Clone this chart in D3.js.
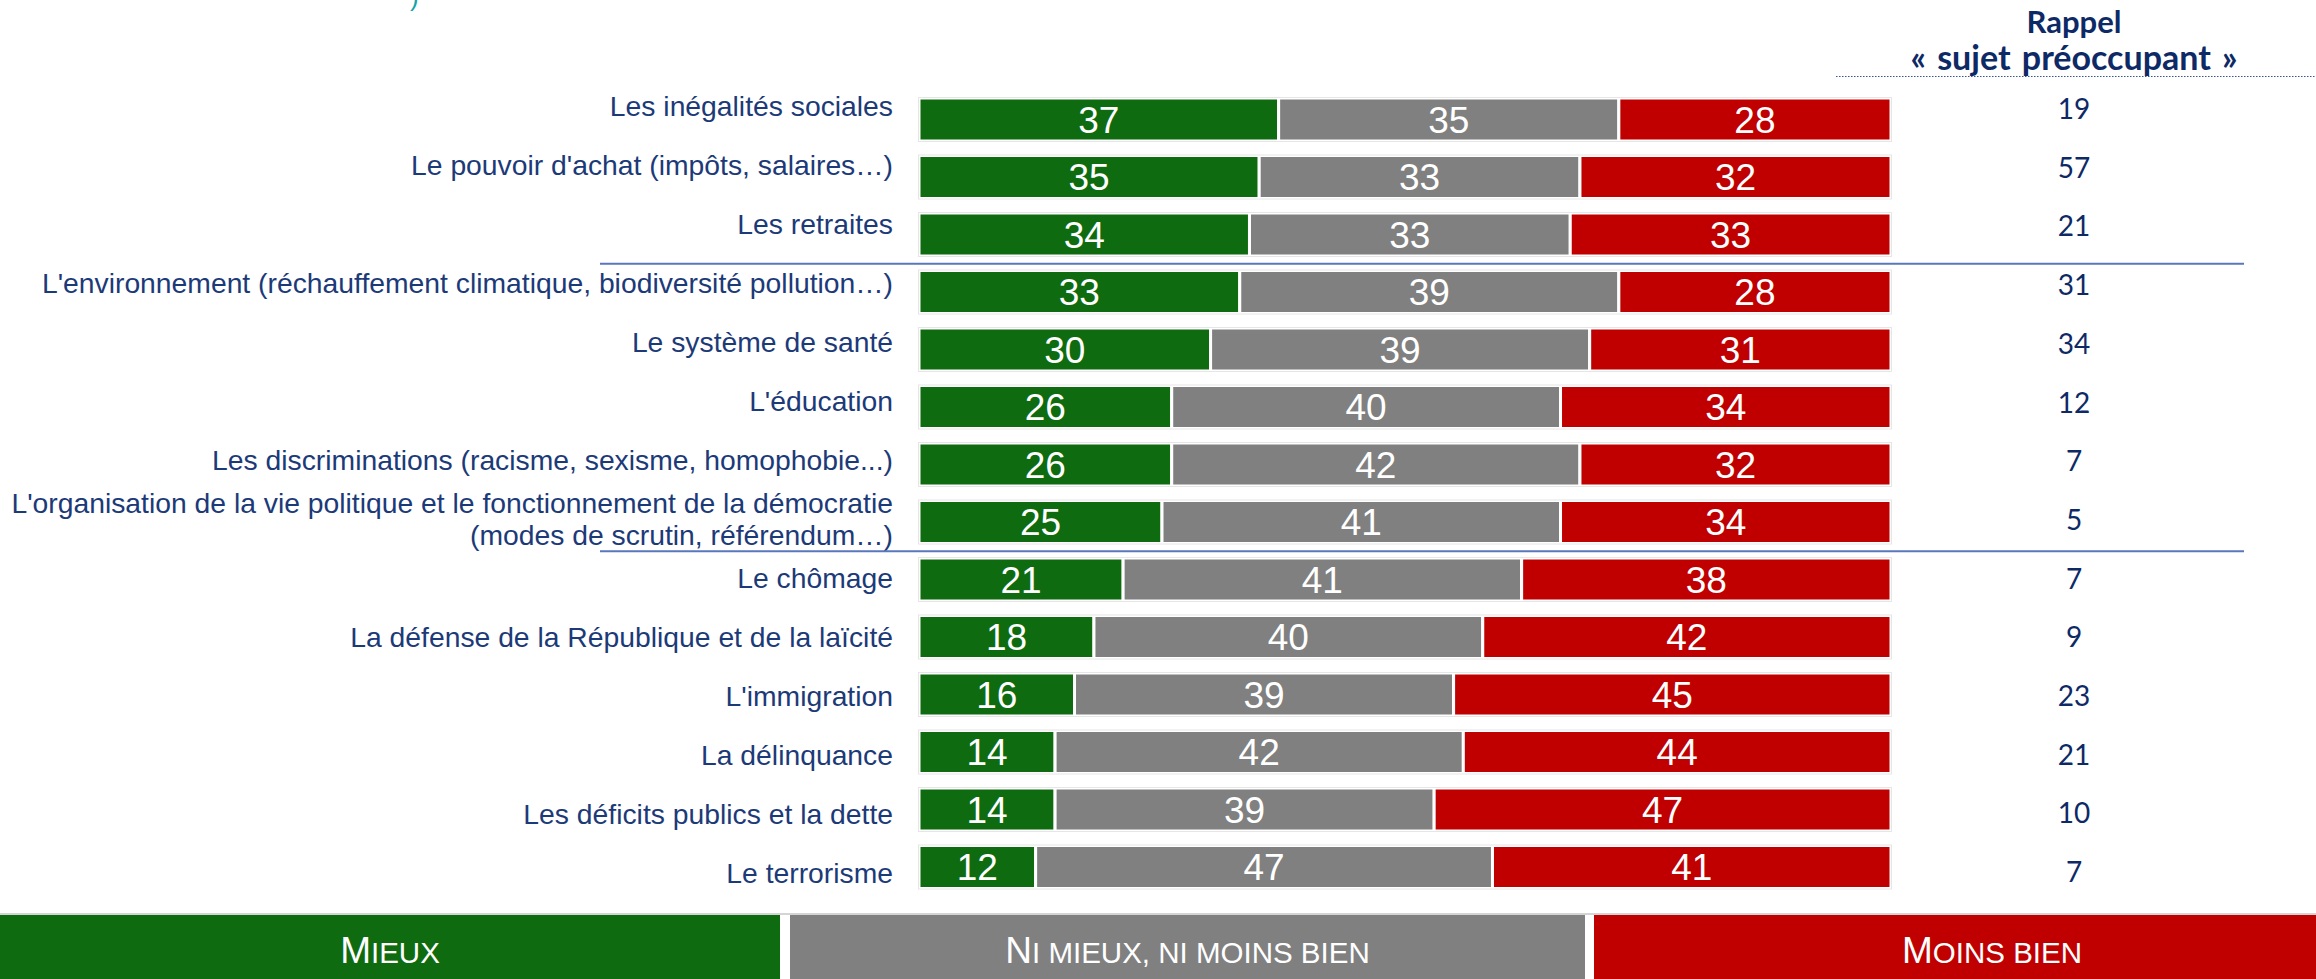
<!DOCTYPE html>
<html lang="fr">
<head>
<meta charset="utf-8">
<title>Évolution perçue des sujets de société</title>
<script src="https://cdn.jsdelivr.net/npm/d3@7"></script>
<style>
  html, body { margin: 0; padding: 0; background: #ffffff; }
  svg { display: block; }
</style>
</head>
<body>
<svg id="chart" width="2316" height="979"></svg>
<script>
// Sujets, de haut en bas (le 8e tient sur deux lignes)
const categories = [
  ["Les inégalités sociales"],
  ["Le pouvoir d'achat (impôts, salaires…)"],
  ["Les retraites"],
  ["L'environnement (réchauffement climatique, biodiversité pollution…)"],
  ["Le système de santé"],
  ["L'éducation"],
  ["Les discriminations (racisme, sexisme, homophobie...)"],
  ["L'organisation de la vie politique et le fonctionnement de la démocratie", "(modes de scrutin, référendum…)"],
  ["Le chômage"],
  ["La défense de la République et de la laïcité"],
  ["L'immigration"],
  ["La délinquance"],
  ["Les déficits publics et la dette"],
  ["Le terrorisme"]
];

// Répartition des réponses (%)
const mieux      = [37, 35, 34, 33, 30, 26, 26, 25, 21, 18, 16, 14, 14, 12];
const niMieux    = [35, 33, 33, 39, 39, 40, 42, 41, 41, 40, 39, 42, 39, 47];
const moinsBien  = [28, 32, 33, 28, 31, 34, 32, 34, 38, 42, 45, 44, 47, 41];

// Rappel « sujet préoccupant » (%)
const rappel = [19, 57, 21, 31, 34, 12, 7, 5, 7, 9, 23, 21, 10, 7];

// Séparateurs tracés après ces lignes
const groupBreaks = [2, 7];

// Légende : [initiale, suite en petites capitales]
const legendLabels = [
  ["M", "IEUX"],
  ["N", "I MIEUX, NI MOINS BIEN"],
  ["M", "OINS BIEN"]
];
const headerLines = ["Rappel", "« sujet préoccupant »"];

const seriesKeys = ["mieux", "niMieux", "moinsBien"];
const colors = { mieux: "#0F6B10", niMieux: "#808080", moinsBien: "#C00000" };

const rows = categories.map((c, i) => ({
  index: i, label: c,
  mieux: mieux[i], niMieux: niMieux[i], moinsBien: moinsBien[i],
  rappel: rappel[i]
}));

const svg = d3.select("#chart");
const FONT = "'Liberation Sans', Arial, Helvetica, sans-serif";
const NAVY = "#1C3A78";
const DARK = "#0E2A66";

// Échelles
const x = d3.scaleLinear().domain([0, 100]).range([919, 1891]);
const yBar = d3.scaleLinear().domain([0, categories.length - 1]).range([119.5, 867]);
const yLabel = d3.scaleLinear().domain([0, categories.length - 1]).range([106, 873]);
const yValue = d3.scaleLinear().domain([0, categories.length - 1]).range([109, 872]);
const barH = 43;

const stack = d3.stack().keys(seriesKeys)(rows);

// Petit reste du titre, coupé en haut de la page
svg.append("text")
  .attr("x", 410).attr("y", 6)
  .attr("font-family", FONT).attr("font-size", 26)
  .attr("fill", "#13A3A8")
  .text(")");

// Barres empilées
const layers = svg.append("g").selectAll("g")
  .data(stack).join("g")
  .attr("fill", d => colors[d.key]);

layers.selectAll("rect")
  .data(d => d)
  .join("rect")
  .attr("x", d => x(d[0]))
  .attr("y", d => yBar(d.data.index) - barH / 2)
  .attr("width", d => x(d[1]) - x(d[0]))
  .attr("height", barH)
  .attr("stroke", "#ffffff")
  .attr("stroke-width", 3);

// Contour très léger autour de chaque barre
svg.append("g").selectAll("rect")
  .data(rows).join("rect")
  .attr("x", x(0) - 0.5)
  .attr("y", d => yBar(d.index) - barH / 2 - 0.5)
  .attr("width", x(100) - x(0) + 1)
  .attr("height", barH + 1)
  .attr("fill", "none")
  .attr("stroke", "#e6e6e6")
  .attr("stroke-width", 1);

// Valeurs dans les segments
layers.selectAll("text")
  .data(d => d)
  .join("text")
  .attr("x", d => (x(d[0]) + x(d[1])) / 2)
  .attr("y", d => yBar(d.data.index))
  .attr("dy", "0.36em")
  .attr("text-anchor", "middle")
  .attr("font-family", FONT)
  .attr("font-size", 37)
  .attr("fill", "#ffffff")
  .text(d => d[1] - d[0]);

// Libellés des sujets
const labels = svg.append("g").selectAll("text")
  .data(rows).join("text")
  .attr("text-anchor", "end")
  .attr("font-family", FONT)
  .attr("font-size", 28.3)
  .attr("fill", NAVY);

labels.each(function (d) {
  const t = d3.select(this);
  const n = d.label.length;
  const lineGap = 32;
  d.label.forEach((line, k) => {
    t.append("tspan")
      .attr("x", 893)
      .attr("y", yLabel(d.index) + (k - (n - 1) / 2) * lineGap + 10)
      .text(line);
  });
});

// Séparateurs de groupes
svg.append("g").selectAll("line")
  .data(groupBreaks).join("line")
  .attr("x1", 600).attr("x2", 2244)
  .attr("y1", d => (yBar(d) + yBar(d + 1)) / 2 + 0.5)
  .attr("y2", d => (yBar(d) + yBar(d + 1)) / 2 + 0.5)
  .attr("stroke", "#5A77BD")
  .attr("stroke-width", 2);

// Colonne « Rappel »
const colX = 2074;
svg.append("g").selectAll("text")
  .data(headerLines).join("text")
  .attr("x", colX)
  .attr("y", (d, i) => 33 + i * 37)
  .attr("text-anchor", "middle")
  .attr("font-family", "Lato, 'Open Sans', sans-serif")
  .attr("font-weight", 700)
  .attr("font-size", (d, i) => i === 1 ? 34 : 31)
  .attr("word-spacing", (d, i) => i === 1 ? 3 : 0)
  .attr("fill", DARK)
  .text(d => d);

svg.append("line")
  .attr("x1", 1836).attr("x2", 2316)
  .attr("y1", 76.5).attr("y2", 76.5)
  .attr("stroke", "#3B5592")
  .attr("stroke-width", 1.2)
  .attr("stroke-dasharray", "1.5,1.5");

svg.append("g").selectAll("text")
  .data(rows).join("text")
  .attr("x", colX)
  .attr("y", d => yValue(d.index))
  .attr("dy", "0.36em")
  .attr("text-anchor", "middle")
  .attr("font-family", "Lato, 'Open Sans', sans-serif")
  .attr("font-size", 28)
  .attr("fill", DARK)
  .text(d => d.rappel);

// Légende en bas
const legendBoxes = [
  { x0: 0, x1: 780, key: "mieux" },
  { x0: 790, x1: 1585, key: "niMieux" },
  { x0: 1594, x1: 2390, key: "moinsBien" }
];
const legend = svg.append("g");
legend.append("rect")
  .attr("x", 0).attr("y", 913).attr("width", 2316).attr("height", 2)
  .attr("fill", "#d4d4d4");
legend.selectAll("rect.box")
  .data(legendBoxes).join("rect")
  .attr("class", "box")
  .attr("x", d => d.x0)
  .attr("y", 915)
  .attr("width", d => d.x1 - d.x0)
  .attr("height", 70)
  .attr("fill", d => colors[d.key]);

const legendText = legend.selectAll("text")
  .data(legendBoxes).join("text")
  .attr("x", d => (d.x0 + d.x1) / 2)
  .attr("y", 963)
  .attr("text-anchor", "middle")
  .attr("font-family", FONT)
  .attr("fill", "#ffffff");

legendText.each(function (d, i) {
  const t = d3.select(this);
  t.append("tspan").attr("font-size", 37).text(legendLabels[i][0]);
  t.append("tspan").attr("font-size", 29.5).text(legendLabels[i][1]);
});
</script>
</body>
</html>
